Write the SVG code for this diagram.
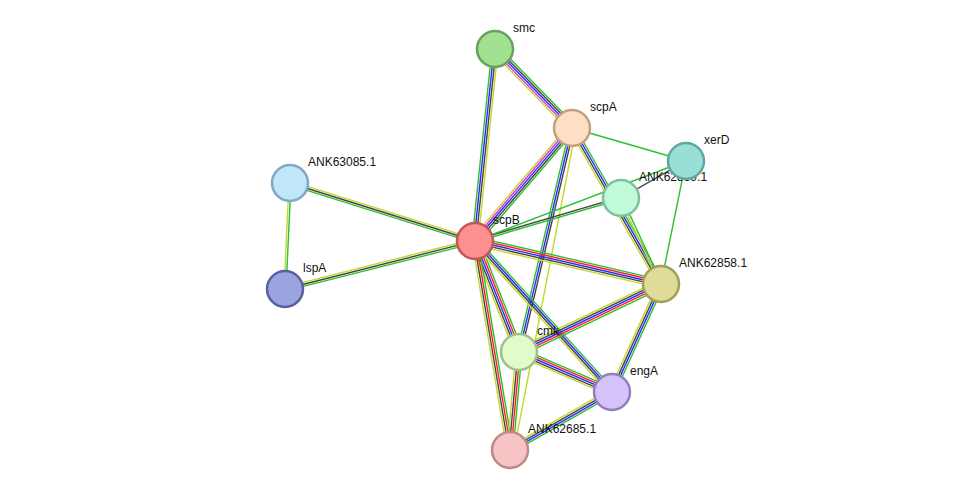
<svg xmlns="http://www.w3.org/2000/svg" width="975" height="496" viewBox="0 0 975 496">
<style>
line{stroke-width:1.4;fill:none}
.g{stroke:#2ec02e}.b{stroke:#2a2aff}.k{stroke:#444}.y{stroke:#c4d82c}.m{stroke:#e030e0}.r{stroke:#ff2020}
circle{stroke-width:2.5}
text{font-family:"Liberation Sans",Arial,sans-serif;font-size:12px;fill:#111}
</style>
<rect width="975" height="496" fill="#fff"/>
<g id="connectors">
<g transform="translate(475,241) rotate(-84.05)"><line class="g" x1="0" y1="-3" x2="193" y2="-3"/><line class="b" x1="0" y1="-1" x2="193" y2="-1"/><line class="k" x1="0" y1="1" x2="193" y2="1"/><line class="y" x1="0" y1="3" x2="193" y2="3"/></g>
<g transform="translate(495,49) rotate(45.7)"><line class="g" x1="0" y1="-4" x2="110" y2="-4"/><line class="k" x1="0" y1="-2" x2="110" y2="-2"/><line class="b" x1="0" y1="0" x2="110" y2="0"/><line class="m" x1="0" y1="2" x2="110" y2="2"/><line class="y" x1="0" y1="4" x2="110" y2="4"/></g>
<g transform="translate(475,241) rotate(-49.4)"><line class="y" x1="0" y1="-4" x2="149" y2="-4"/><line class="m" x1="0" y1="-2" x2="149" y2="-2"/><line class="b" x1="0" y1="0" x2="149" y2="0"/><line class="k" x1="0" y1="2" x2="149" y2="2"/><line class="g" x1="0" y1="4" x2="149" y2="4"/></g>
<g transform="translate(572,128) rotate(16.1)"><line class="g" x1="0" y1="0" x2="119" y2="0"/></g>
<g transform="translate(572,128) rotate(60.3)"><line class="g" x1="0" y1="-3" x2="180" y2="-3"/><line class="b" x1="0" y1="-1" x2="180" y2="-1"/><line class="k" x1="0" y1="1" x2="180" y2="1"/><line class="y" x1="0" y1="3" x2="180" y2="3"/></g>
<g transform="translate(621,198) rotate(65.1)"><line class="g" x1="0" y1="-1" x2="95" y2="-1"/><line class="y" x1="0" y1="1" x2="95" y2="1"/></g>
<g transform="translate(572,128) rotate(103.3)"><line class="k" x1="0" y1="-2" x2="230" y2="-2"/><line class="b" x1="0" y1="0" x2="230" y2="0"/><line class="g" x1="0" y1="2" x2="230" y2="2"/></g>
<g transform="translate(572,128) rotate(100.9)"><line class="y" x1="0" y1="-4" x2="328" y2="-4"/></g>
<g transform="translate(475,241) rotate(-16.4)"><line class="k" x1="0" y1="-1" x2="152" y2="-1"/><line class="g" x1="0" y1="1" x2="152" y2="1"/></g>
<g transform="translate(475,241) rotate(-20.8)"><line class="g" x1="0" y1="0" x2="226" y2="0"/></g>
<g transform="translate(686,161) rotate(150.3)"><line class="k" x1="0" y1="0" x2="75" y2="0"/></g>
<g transform="translate(686,161) rotate(101.5)"><line class="g" x1="0" y1="0" x2="126" y2="0"/></g>
<g transform="translate(475,241) rotate(13)"><line class="g" x1="0" y1="-4" x2="191" y2="-4"/><line class="r" x1="0" y1="-2" x2="191" y2="-2"/><line class="b" x1="0" y1="0" x2="191" y2="0"/><line class="k" x1="0" y1="2" x2="191" y2="2"/><line class="y" x1="0" y1="4" x2="191" y2="4"/></g>
<g transform="translate(290,183) rotate(17.4)"><line class="y" x1="0" y1="-2" x2="194" y2="-2"/><line class="k" x1="0" y1="0" x2="194" y2="0"/><line class="g" x1="0" y1="2" x2="194" y2="2"/></g>
<g transform="translate(285,289) rotate(-14.2)"><line class="y" x1="0" y1="-2" x2="196" y2="-2"/><line class="k" x1="0" y1="0" x2="196" y2="0"/><line class="g" x1="0" y1="2" x2="196" y2="2"/></g>
<g transform="translate(290,183) rotate(92.7)"><line class="g" x1="0" y1="-1" x2="106" y2="-1"/><line class="y" x1="0" y1="1" x2="106" y2="1"/></g>
<g transform="translate(475,241) rotate(68.4)"><line class="g" x1="0" y1="-4" x2="119" y2="-4"/><line class="r" x1="0" y1="-2" x2="119" y2="-2"/><line class="b" x1="0" y1="0" x2="119" y2="0"/><line class="k" x1="0" y1="2" x2="119" y2="2"/><line class="y" x1="0" y1="4" x2="119" y2="4"/></g>
<g transform="translate(475,241) rotate(47.8)"><line class="g" x1="0" y1="-3" x2="204" y2="-3"/><line class="b" x1="0" y1="-1" x2="204" y2="-1"/><line class="k" x1="0" y1="1" x2="204" y2="1"/><line class="y" x1="0" y1="3" x2="204" y2="3"/></g>
<g transform="translate(475,241) rotate(80.5)"><line class="g" x1="0" y1="-3" x2="212" y2="-3"/><line class="r" x1="0" y1="-1" x2="212" y2="-1"/><line class="k" x1="0" y1="1" x2="212" y2="1"/><line class="y" x1="0" y1="3" x2="212" y2="3"/></g>
<g transform="translate(519,352) rotate(-25.6)"><line class="y" x1="0" y1="-4" x2="157" y2="-4"/><line class="k" x1="0" y1="-2" x2="157" y2="-2"/><line class="b" x1="0" y1="0" x2="157" y2="0"/><line class="r" x1="0" y1="2" x2="157" y2="2"/><line class="g" x1="0" y1="4" x2="157" y2="4"/></g>
<g transform="translate(519,352) rotate(23.3)"><line class="g" x1="0" y1="-4" x2="101" y2="-4"/><line class="r" x1="0" y1="-2" x2="101" y2="-2"/><line class="b" x1="0" y1="0" x2="101" y2="0"/><line class="k" x1="0" y1="2" x2="101" y2="2"/><line class="y" x1="0" y1="4" x2="101" y2="4"/></g>
<g transform="translate(519,352) rotate(95.2)"><line class="g" x1="0" y1="-3" x2="98" y2="-3"/><line class="r" x1="0" y1="-1" x2="98" y2="-1"/><line class="k" x1="0" y1="1" x2="98" y2="1"/><line class="y" x1="0" y1="3" x2="98" y2="3"/></g>
<g transform="translate(612,392) rotate(-65.6)"><line class="y" x1="0" y1="-3" x2="119" y2="-3"/><line class="k" x1="0" y1="-1" x2="119" y2="-1"/><line class="b" x1="0" y1="1" x2="119" y2="1"/><line class="g" x1="0" y1="3" x2="119" y2="3"/></g>
<g transform="translate(612,392) rotate(150.4)"><line class="g" x1="0" y1="-3" x2="117" y2="-3"/><line class="b" x1="0" y1="-1" x2="117" y2="-1"/><line class="k" x1="0" y1="1" x2="117" y2="1"/><line class="y" x1="0" y1="3" x2="117" y2="3"/></g>
</g>
<g id="smc"><circle cx="495" cy="49" r="18" fill="#a0e090" stroke="#6aa060"/><text x="513" y="32">smc</text></g>
<g id="scpA"><circle cx="572" cy="128" r="18" fill="#fde0c4" stroke="#c0a080"/><text x="590" y="111">scpA</text></g>
<g id="ANK62859.1"><circle cx="621" cy="198" r="18" fill="#c2fadc" stroke="#80c0a0"/><text x="639" y="181">ANK62859.1</text></g>
<g id="xerD"><circle cx="686" cy="161" r="18" fill="#99dfd6" stroke="#5fa89f"/><text x="704" y="144">xerD</text></g>
<g id="ANK63085.1"><circle cx="290" cy="183" r="18" fill="#c0e6fa" stroke="#80a8c8"/><text x="308" y="166">ANK63085.1</text></g>
<g id="scpB"><circle cx="475" cy="241" r="18" fill="#ff9090" stroke="#c05858"/><text x="493" y="224">scpB</text></g>
<g id="lspA"><circle cx="285" cy="289" r="18" fill="#9ca4e0" stroke="#5860a0"/><text x="303" y="272">lspA</text></g>
<g id="ANK62858.1"><circle cx="661" cy="284" r="18" fill="#dedc98" stroke="#a0a058"/><text x="679" y="267">ANK62858.1</text></g>
<g id="cmk"><circle cx="519" cy="352" r="18" fill="#e0fcc8" stroke="#a0c088"/><text x="537" y="335">cmk</text></g>
<g id="engA"><circle cx="612" cy="392" r="18" fill="#d4c4fa" stroke="#9080c0"/><text x="630" y="375">engA</text></g>
<g id="ANK62685.1"><circle cx="510" cy="450" r="18" fill="#f6c4c4" stroke="#c08888"/><text x="528" y="433">ANK62685.1</text></g>
</svg>
